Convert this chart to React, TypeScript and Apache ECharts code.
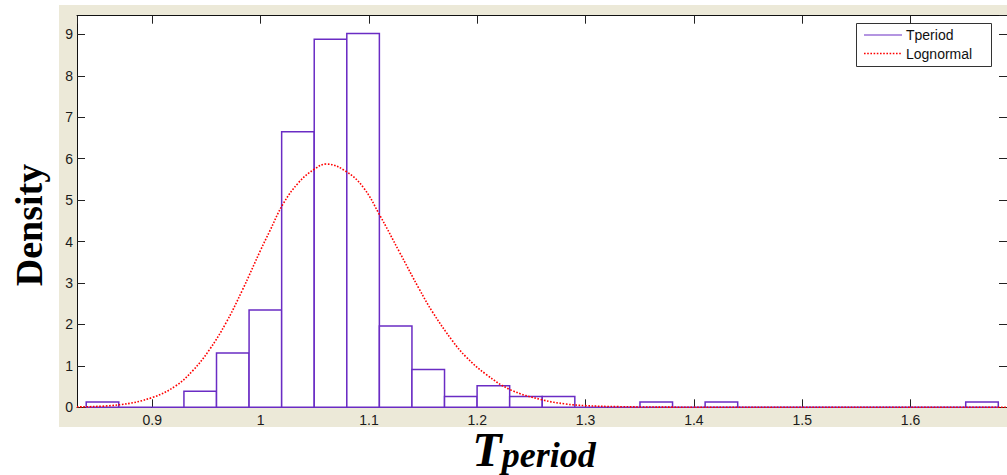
import React, { useEffect, useRef } from "react";
import * as echarts from "echarts";

// Histogram (density) of Tperiod
const binStart = 0.839;
const binWidth = 0.03007;
const densities = [
  0.13, 0, 0, 0.39, 1.31, 2.35, 6.65, 8.88, 9.02, 1.96, 0.91, 0.26, 0.52, 0.26,
  0.26, 0, 0, 0.13, 0, 0.13, 0, 0, 0, 0, 0, 0, 0, 0.13,
];

// Lognormal fit curve
const curveX = [
  0.8305, 0.8696, 0.9004, 0.9218, 0.9372, 0.9525, 0.9679, 0.9832, 1.0001, 1.0084,
  1.0206, 1.035, 1.0498, 1.0606, 1.079, 1.095, 1.1097, 1.1281, 1.1465, 1.1587,
  1.1772, 1.1895, 1.2079, 1.2309, 1.26, 1.2816, 1.3, 1.3307, 1.4, 1.5, 1.6, 1.689,
];
const curveY = [
  0.01, 0.06, 0.24, 0.52, 0.88, 1.38, 2.03, 2.83, 3.8, 4.25, 4.9, 5.42, 5.75, 5.87,
  5.69, 5.3, 4.65, 3.75, 2.85, 2.3, 1.6, 1.22, 0.8, 0.42, 0.18, 0.08, 0.04,
  0.015, 0.002, 0, 0, 0,
];

const legendNames = ["Tperiod", "Lognormal"];

const xMin = 0.8305;
const xMax = 1.689;
const yMin = 0;
const yMax = 9.45;

const PURPLE = "#6a2cc4";
const RED = "#ff0000";
const SANS = "'Liberation Sans', Arial, Helvetica, sans-serif";
const SERIF = "'Liberation Serif', 'Times New Roman', serif";

export default function App() {
  const ref = useRef<HTMLDivElement>(null);

  useEffect(() => {
    if (!ref.current) return;
    const chart = echarts.init(ref.current, undefined, { renderer: "svg" });

    const histData = densities.map((d, i) => [
      binStart + i * binWidth,
      binStart + (i + 1) * binWidth,
      d,
    ]);
    const curveData = curveX.map((x, i) => [x, curveY[i]]);

    const axisCommon = {
      type: "value" as const,
      axisLine: { show: true, onZero: false, lineStyle: { color: "#111", width: 1 } },
      axisTick: { show: true, inside: true, length: 8, lineStyle: { color: "#222", width: 1 } },
      splitLine: { show: false },
    };

    const option: any = {
      animation: false,
      backgroundColor: "#ffffff",
      grid: {
        left: 77,
        top: 15.7,
        right: -3.7,
        bottom: 67.7,
        show: true,
        backgroundColor: "#ffffff",
        borderWidth: 0,
      },
      xAxis: [
        {
          ...axisCommon,
          position: "bottom",
          min: xMin,
          max: xMax,
          splitNumber: 8,
          minInterval: 0.1,
          maxInterval: 0.1,
          axisLabel: {
            show: true,
            showMinLabel: false,
            showMaxLabel: false,
            margin: 6,
            color: "#1a1a1a",
            fontSize: 14,
            fontFamily: SANS,
          },
        },
        {
          ...axisCommon,
          position: "top",
          min: xMin,
          max: xMax,
          splitNumber: 8,
          minInterval: 0.1,
          maxInterval: 0.1,
          axisLabel: { show: false },
        },
      ],
      yAxis: [
        {
          ...axisCommon,
          position: "left",
          min: yMin,
          max: yMax,
          interval: 1,
          axisLabel: {
            show: true,
            showMaxLabel: false,
            margin: 4,
            color: "#1a1a1a",
            fontSize: 14,
            fontFamily: SANS,
          },
        },
        {
          ...axisCommon,
          position: "right",
          min: yMin,
          max: yMax,
          interval: 1,
          axisLabel: { show: false },
        },
      ],
      series: [
        {
          name: legendNames[0],
          type: "custom",
          xAxisIndex: 0,
          yAxisIndex: 0,
          encode: { x: [0, 1], y: 2 },
          data: histData,
          renderItem: (params: any, api: any) => {
            const p0 = api.coord([api.value(0), 0]);
            const p1 = api.coord([api.value(1), api.value(2)]);
            return {
              type: "rect",
              shape: {
                x: p0[0],
                y: p1[1],
                width: p1[0] - p0[0],
                height: p0[1] - p1[1],
              },
              style: { fill: "#ffffff", stroke: PURPLE, lineWidth: 1.5 },
            };
          },
          z: 2,
        },
        {
          name: legendNames[1],
          type: "line",
          xAxisIndex: 0,
          yAxisIndex: 0,
          data: curveData,
          smooth: 0.4,
          showSymbol: false,
          symbol: "none",
          lineStyle: { color: RED, width: 1.6, type: [1.6, 1.6] },
          z: 3,
        },
      ],
      graphic: [
        {
          type: "rect",
          z: -10,
          silent: true,
          shape: { x: 59, y: 5, width: 960, height: 422 },
          style: { fill: "#ece9d8" },
        },
        {
          type: "text",
          x: 29,
          y: 225,
          rotation: Math.PI / 2,
          style: {
            text: "Density",
            font: `bold 38px ${SERIF}`,
            fill: "#000",
            textAlign: "center",
            textVerticalAlign: "middle",
          },
        },
        {
          type: "text",
          x: 534,
          y: 473,
          style: {
            text: "{a|T}{b|period}",
            textAlign: "center",
            textVerticalAlign: "bottom",
            rich: {
              a: {
                fontFamily: SERIF,
                fontWeight: "bold",
                fontStyle: "italic",
                fontSize: 48,
                lineHeight: 42,
                fill: "#000",
                color: "#000",
                verticalAlign: "bottom",
              },
              b: {
                fontFamily: SERIF,
                fontWeight: "bold",
                fontStyle: "italic",
                fontSize: 36,
                lineHeight: 42,
                fill: "#000",
                color: "#000",
                verticalAlign: "bottom",
              },
            },
          },
        },
        {
          type: "group",
          z: 100,
          children: [
            {
              type: "rect",
              shape: { x: 856.5, y: 23.5, width: 135, height: 43 },
              style: { fill: "#ffffff", stroke: "#333", lineWidth: 1 },
            },
            {
              type: "line",
              shape: { x1: 864, y1: 35, x2: 902, y2: 35 },
              style: { stroke: PURPLE, lineWidth: 1.2 },
            },
            {
              type: "line",
              shape: { x1: 864, y1: 53.5, x2: 902, y2: 53.5 },
              style: { stroke: RED, lineWidth: 1.6, lineDash: [1.6, 1.6] },
            },
            {
              type: "text",
              x: 906,
              y: 35,
              style: {
                text: legendNames[0],
                font: `14px ${SANS}`,
                fill: "#111",
                textVerticalAlign: "middle",
              },
            },
            {
              type: "text",
              x: 906,
              y: 54,
              style: {
                text: legendNames[1],
                font: `14px ${SANS}`,
                fill: "#111",
                textVerticalAlign: "middle",
              },
            },
          ],
        },
      ],
    };

    chart.setOption(option);
    return () => chart.dispose();
  }, []);

  return (
    <div
      ref={ref}
      style={{ position: "fixed", left: 0, top: 0, width: 1007, height: 475 }}
    />
  );
}
